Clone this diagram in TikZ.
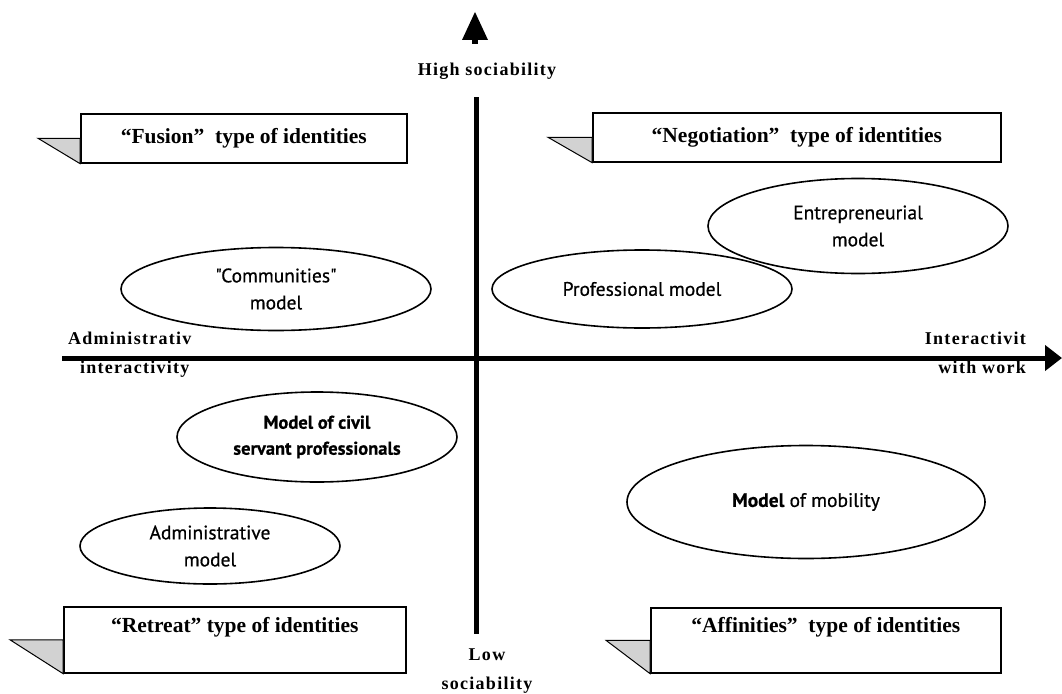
\documentclass[tikz,border=0pt]{standalone}
\usepackage{fontspec}
\setmainfont{Liberation Serif}
\newfontfamily\modelfont{PT Sans}[FakeBold=0.6]
\usetikzlibrary{shapes.geometric,arrows.meta}

\tikzset{
  typebox/.style={draw,line width=1.6pt,inner sep=0pt,font=\bfseries\fontsize{21.5}{26}\selectfont},
  tail/.style={draw,line width=1pt,fill=gray!35},
  model/.style={draw,ellipse,line width=1.6pt,inner sep=0pt,align=center,
    font=\modelfont\fontsize{19.5}{27}\selectfont},
  axislabel/.style={font=\bfseries\fontsize{18}{29}\selectfont\addfontfeature{LetterSpace=7},inner sep=0pt}
}

\begin{document}
\begin{tikzpicture}[x=1pt,y=-1pt]
			\useasboundingbox (0,0) rectangle (1062,693);
			% axes
			\coordinate (top) at (476,97);
			\coordinate (bottom) at (476,634);
			\coordinate (left) at (62,358);
			\coordinate (right) at (1062,358);
			\draw[line width=5pt] (top) -- (bottom);
			\draw[line width=5pt,-{Triangle[length=17pt,width=25pt]}] (left) -- (right);
			\fill (462,40) -- (475,12) -- (488,40) -- cycle;
			\fill (472,39) rectangle (478,44);
			\node[axislabel] (high) at (487,71) {High sociability};
			\node[axislabel,align=center] (low) at (487,671) {Low\\sociability};
			\node[axislabel,align=left,anchor=north west] (admin) at (68,332) {Administrativ\\\hspace*{12pt}interactivity};
			\node[axislabel,align=right,anchor=north east] (work) at (1026,332) {Interactivit\\with work};
			% types of identities
			\node[typebox,minimum width=326pt,minimum height=49pt,anchor=north west] (fusion) at (80,113) {“Fusion”\ \ type of identities};
			\node[typebox,minimum width=408pt,minimum height=49pt,anchor=north west] (negotiation) at (592,112) {“Negotiation”\ \ type of identities};
			\node[typebox,minimum width=342pt,minimum height=66pt,anchor=north west,text depth=30pt] (retreat) at (63,606) {“Retreat” type of identities};
			\node[typebox,minimum width=350pt,minimum height=65pt,anchor=north west,text depth=30pt] (affinities) at (650,607) {“Affinities”\ \ type of identities};
			\foreach \b/\d in {fusion/42,negotiation/44,retreat/53,affinities/44}
				\draw[tail] (\b.west) -- ++(-\d,0) -- (\b.south west) -- cycle;
			% models
			\node[model,minimum width=310pt,minimum height=83pt] (communities) at (276,289) {"Communities"\\model};
			\node[model,minimum width=300pt,minimum height=95pt] (entrepreneurial) at (858,226) {Entrepreneurial\\model};
			\node[model,minimum width=300pt,minimum height=78pt] (professional) at (642,289) {Professional model};
			\node[model,minimum width=280pt,minimum height=90pt,font=\modelfont\bfseries\fontsize{18.5}{26}\selectfont] (civil) at (317,437) {Model of civil\\servant professionals};
			\node[model,minimum width=358pt,minimum height=113pt] (mobility) at (806,502) {\textbf{Model} of mobility};
			\node[model,minimum width=260pt,minimum height=76pt] (administrative) at (210,546) {Administrative\\model};
		\end{tikzpicture}
\end{document}
